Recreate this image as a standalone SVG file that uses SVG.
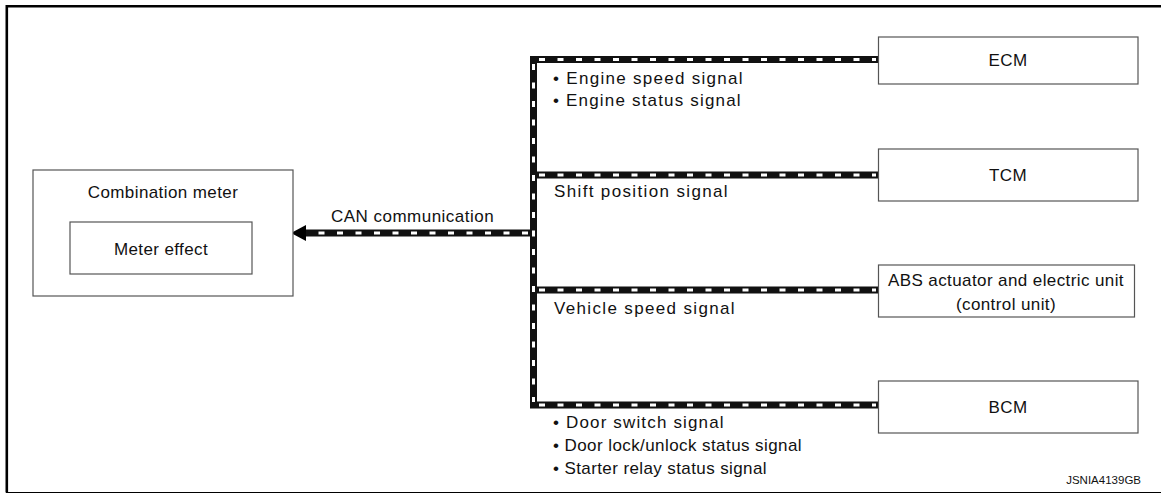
<svg xmlns="http://www.w3.org/2000/svg" width="1161" height="494" viewBox="0 0 1161 494">
<defs>
<style>
.box{fill:#fff;stroke:#555;stroke-width:1.2}
.t{font-family:"Liberation Sans",Arial,sans-serif;font-size:17px;fill:#111;letter-spacing:0.4px}
.c{text-anchor:middle}
.busB{stroke:#111;stroke-width:7;fill:none;stroke-linecap:square}
.busW{stroke:#fff;stroke-width:3;fill:none;stroke-dasharray:6 12.5}
</style>
</defs>
<rect x="0" y="0" width="1161" height="494" fill="#fff"/>
<g id="frame">
<line x1="7" y1="6.2" x2="1161" y2="6.2" stroke="#000" stroke-width="2.6"/>
<line x1="6.8" y1="5" x2="6.8" y2="492.5" stroke="#000" stroke-width="2.6"/>
<line x1="6" y1="492.5" x2="1161" y2="492.5" stroke="#000" stroke-width="1.2"/>
</g>
<g id="connectors">
<path class="busB" d="M878,59.5 H533.5 V405 H878"/>
<path class="busB" d="M533.5,175 H878"/>
<path class="busB" d="M533.5,290 H878"/>
<path class="busB" d="M533.5,233 H305"/>
<path class="busW" d="M539,59.5 H876"/>
<path class="busW" d="M533.5,64 V402"/>
<path class="busW" d="M539,405 H876"/>
<path class="busW" d="M539,175 H876"/>
<path class="busW" d="M539,290 H876"/>
<path class="busW" d="M528,233 H306"/>
<polygon points="291,233 306,225 306,241" fill="#000"/>
<text class="t" x="331" y="222" textLength="163" lengthAdjust="spacing">CAN communication</text>
<text class="t" x="553" y="84" textLength="190" lengthAdjust="spacing">• Engine speed signal</text>
<text class="t" x="553" y="106" textLength="188" lengthAdjust="spacing">• Engine status signal</text>
<text class="t" x="554" y="197" textLength="174" lengthAdjust="spacing">Shift position signal</text>
<text class="t" x="554" y="314" textLength="181" lengthAdjust="spacing">Vehicle speed signal</text>
<text class="t" x="553" y="428" textLength="171" lengthAdjust="spacing">• Door switch signal</text>
<text class="t" x="553" y="451" textLength="249" lengthAdjust="spacing">• Door lock/unlock status signal</text>
<text class="t" x="553" y="474" textLength="214" lengthAdjust="spacing">• Starter relay status signal</text>
</g>
<g id="combination-meter">
<rect class="box" x="33" y="170" width="260" height="126"/>
<text class="t c" x="163" y="198">Combination meter</text>
</g>
<g id="meter-effect">
<rect class="box" x="70" y="222" width="182" height="52"/>
<text class="t c" x="161" y="255">Meter effect</text>
</g>
<g id="ecm">
<rect class="box" x="878.5" y="37" width="259.5" height="47"/>
<text class="t c" x="1008" y="66">ECM</text>
</g>
<g id="tcm">
<rect class="box" x="878.5" y="149" width="259.5" height="52"/>
<text class="t c" x="1008" y="181">TCM</text>
</g>
<g id="abs">
<rect class="box" x="878.5" y="265" width="256" height="52"/>
<text class="t c" x="1006" y="286">ABS actuator and electric unit</text>
<text class="t c" x="1006" y="310">(control unit)</text>
</g>
<g id="bcm">
<rect class="box" x="878.5" y="381" width="259.5" height="52"/>
<text class="t c" x="1008" y="413">BCM</text>
</g>
<text x="1141" y="484" text-anchor="end" font-family="Liberation Sans,Arial,sans-serif" font-size="11.5" fill="#111">JSNIA4139GB</text>
</svg>
